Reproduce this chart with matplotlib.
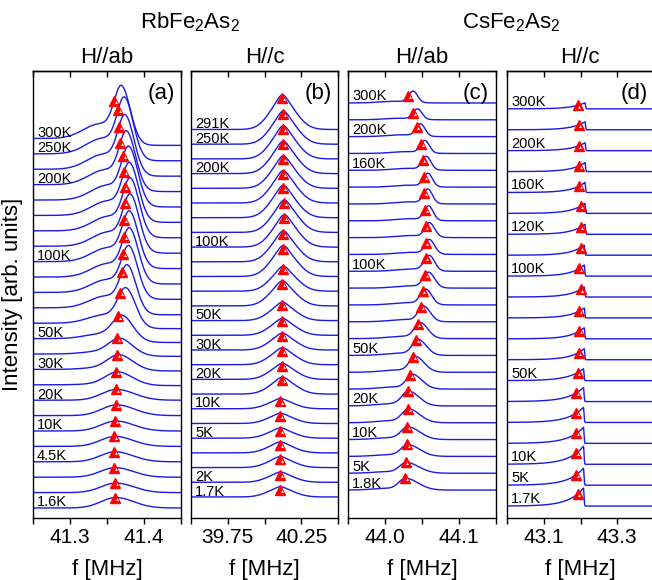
import numpy as np
import matplotlib
matplotlib.use("Agg")
import matplotlib.pyplot as plt
import matplotlib.transforms as mtransforms

plt.rcParams["font.family"] = ["Liberation Sans", "DejaVu Sans"]
plt.rcParams["mathtext.fontset"] = "custom"
plt.rcParams["mathtext.rm"] = "Liberation Sans"

# ======================================================
# NMR spectra, listed from the lowest trace upwards
# heights are in units of the vertical trace spacing
# ======================================================

# RbFe2As2, H//ab
temps_a = ["1.6K", "", "", "4.5K", "", "10K", "", "20K", "", "30K", "", "50K", "",
           "", "", "", "100K", "", "", "", "", "200K", "", "250K", "300K"]
peak_a = [41.362, 41.362, 41.361, 41.361, 41.361, 41.362, 41.363, 41.363, 41.365,
          41.367, 41.368, 41.371, 41.376, 41.378, 41.380, 41.381, 41.381, 41.382,
          41.382, 41.381, 41.380, 41.377, 41.375, 41.374, 41.370]
mark_a = [41.361, 41.361, 41.3595, 41.3595, 41.3595, 41.361, 41.362, 41.362, 41.362,
          41.3635, 41.3635, 41.365, 41.368, 41.370, 41.372, 41.373, 41.373, 41.374,
          41.374, 41.373, 41.372, 41.368, 41.366, 41.365, 41.3595]
height_a = [0.68, 0.62, 0.62, 0.65, 0.65, 0.65, 0.7, 0.7, 0.85, 0.97, 1.05, 1.55, 2.35,
            2.85, 3.1, 3.25, 3.35, 3.45, 3.5, 3.5, 3.55, 3.55, 3.6, 3.75, 3.5]
width_a = [0.020, 0.020, 0.020, 0.020, 0.020, 0.020, 0.020, 0.020, 0.017, 0.016,
           0.015, 0.013, 0.011, 0.010, 0.010, 0.010, 0.010, 0.010, 0.010, 0.010,
           0.010, 0.010, 0.010, 0.010, 0.010]
shoulder_a = [0, 0, 0, 0, 0, 0, 0, 0, 0.05, 0.1, 0.15, 0.2, 0.25, 0.3, 0.3, 0.3,
              0.3, 0.3, 0.3, 0.3, 0.3, 0.3, 0.3, 0.3, 0.3]
lift_a = [0, 0, 0, 0, 0, 0, 0, 0, 0.05, 0.1, 0.15, 0.25, 0.35, 0.45, 0.45, 0.45,
          0.45, 0.45, 0.45, 0.45, 0.45, 0.45, 0.45, 0.45, 0.45]

# RbFe2As2, H//c
temps_b = ["1.7K", "2K", "", "", "5K", "", "10K", "", "20K", "", "30K", "", "50K",
           "", "", "", "", "100K", "", "", "", "", "200K", "", "250K", "291K"]
peak_b = [40.108, 40.108, 40.108, 40.108, 40.108, 40.108, 40.108, 40.122, 40.122,
          40.122, 40.122, 40.122, 40.122, 40.122, 40.128, 40.128, 40.128, 40.135,
          40.135, 40.128, 40.128, 40.128, 40.128, 40.128, 40.128, 40.122]
height_b = [0.7, 0.7, 0.75, 0.75, 0.7, 0.7, 0.7, 1.15, 1.1, 1.15, 1.15, 1.15, 1.25,
            1.7, 1.7, 2.1, 2.1, 2.2, 2.2, 2.2, 2.2, 2.2, 2.2, 2.25, 2.25, 2.35]

# CsFe2As2, H//ab
temps_c = ["1.8K", "5K", "", "10K", "", "20K", "", "", "50K", "", "", "", "",
           "100K", "", "", "", "", "", "160K", "", "200K", "", "300K"]
peak_c = [44.028, 44.029, 44.031, 44.031, 44.032, 44.032, 44.037, 44.041, 44.045,
          44.048, 44.052, 44.055, 44.059, 44.060, 44.060, 44.060, 44.059, 44.058,
          44.058, 44.056, 44.054, 44.048, 44.044, 44.038]
mark_c = [44.027, 44.028, 44.030, 44.030, 44.031, 44.031, 44.034, 44.038, 44.042,
          44.044, 44.049, 44.051, 44.054, 44.055, 44.055, 44.055, 44.054, 44.053,
          44.053, 44.051, 44.049, 44.043, 44.038, 44.031]
height_c = [0.71, 0.65, 0.71, 0.77, 0.83, 0.89, 0.89, 0.95, 0.95, 0.95, 0.95, 0.95,
            0.95, 0.95, 0.89, 0.89, 0.89, 0.89, 0.83, 0.83, 0.77, 0.77, 0.65, 0.71]
width_c = [0.009, 0.009, 0.009, 0.009, 0.009, 0.009, 0.008, 0.008, 0.008, 0.008,
           0.007, 0.007, 0.007, 0.007, 0.006, 0.006, 0.006, 0.006, 0.006, 0.006,
           0.006, 0.006, 0.006, 0.006]
tail_c = [0.017, 0.017, 0.016, 0.016, 0.015, 0.014, 0.013, 0.012, 0.011, 0.010,
          0.009, 0.008, 0.008, 0.007, 0.007, 0.007, 0.006, 0.006, 0.006, 0.006,
          0.006, 0.006, 0.006, 0.006]

# CsFe2As2, H//c
temps_d = ["1.7K", "5K", "10K", "", "", "", "50K", "", "", "", "", "100K", "",
           "120K", "", "160K", "", "200K", "", "300K"]
edge_d = [43.208, 43.208, 43.208, 43.208, 43.208, 43.208, 43.208, 43.210, 43.210,
          43.210, 43.210, 43.210, 43.210, 43.212, 43.212, 43.212, 43.212, 43.212,
          43.212, 43.212]
mark_d = [43.192, 43.189, 43.189, 43.189, 43.189, 43.189, 43.192, 43.195, 43.197,
          43.197, 43.200, 43.197, 43.200, 43.200, 43.200, 43.197, 43.197, 43.195,
          43.195, 43.192]
height_d = [0.86, 0.81, 0.86, 0.77, 0.72, 0.67, 0.57, 0.53, 0.53, 0.48, 0.48, 0.53,
            0.48, 0.48, 0.48, 0.48, 0.43, 0.38, 0.38, 0.29]
rise_d = [0.040, 0.040, 0.040, 0.040, 0.040, 0.040, 0.040, 0.035, 0.035, 0.035,
          0.035, 0.035, 0.035, 0.035, 0.035, 0.035, 0.035, 0.035, 0.035, 0.035]

# frequency windows and axis ticks
xlim_a, ticks_a, labels_a, minor_a = (41.25, 41.45), [41.3, 41.4], ["41.3", "41.4"], [41.25, 41.35, 41.45]
xlim_b, ticks_b, labels_b, minor_b = (39.5, 40.5), [39.75, 40.25], ["39.75", "40.25"], [39.5, 40.0, 40.5]
xlim_c, ticks_c, labels_c, minor_c = (43.95, 44.15), [44.0, 44.1], ["44.0", "44.1"], [43.95, 44.05, 44.15]
xlim_d, ticks_d, labels_d, minor_d = (43.0, 43.4), [43.1, 43.3], ["43.1", "43.3"], [43.0, 43.2, 43.4]


# ======================================================
# Line shapes
# ======================================================

def asym_gauss(f, c, sl, sr):
    s = np.where(f < c, sl, sr)
    return np.exp(-(f - c) ** 2 / (2 * s ** 2))


def spectrum_a(f, c, h, s, sh, lift):
    y = asym_gauss(f, c, s, 1.2 * s) + sh * np.exp(-(f - c + 0.03) ** 2 / (2 * 0.022 ** 2))
    y = h * y / y.max()
    step = lift / (1 + np.exp((f - c - 0.01) / 0.005))
    return y + step - lift


def spectrum_b(f, c, h):
    y = 0.85 * asym_gauss(f, c, 0.085, 0.09) + 0.15 * asym_gauss(f, c, 0.03, 0.03)
    return h * y / y.max()


def spectrum_c(f, c, h, sl, sr):
    y = asym_gauss(f, c, sl, sr) + 0.15 * np.exp(-(f - c + 0.025) ** 2 / (2 * 0.02 ** 2))
    return h * y / y.max()


def spectrum_d(f, c, h, tau):
    y = np.where(f < c, np.exp(np.minimum(f - c, 0) / tau),
                 np.exp(-(f - c) ** 2 / (2 * 0.0015 ** 2)))
    return h * y


# ======================================================
# Figure
# ======================================================

W, H = 652, 580
fig = plt.figure(figsize=(W / 100, H / 100), dpi=100)

LINE = "#1a1ae6"


def px_axes(left, right, top=71, bottom=518):
    return fig.add_axes([left / W, 1 - bottom / H, (right - left) / W, (bottom - top) / H])


def setup_axis(ax, xlim, ylim, ticks, labels, minor, letter):
    ax.set_xlim(xlim)
    ax.set_ylim(ylim)
    ax.set_yticks([])
    ax.set_xticks(ticks)
    ax.set_xticklabels(labels, fontsize=15)
    ax.set_xticks(minor, minor=True)
    ax.tick_params(axis="x", which="both", direction="out", length=4.5, width=1, pad=3)
    top = ax.secondary_xaxis("top")
    top.set_xticks(ticks)
    top.set_xticks(minor, minor=True)
    top.tick_params(axis="x", which="both", direction="in", length=4.5, width=1,
                    labeltop=False)
    for sp in list(ax.spines.values()) + list(top.spines.values()):
        sp.set_linewidth(1.0)
    ax.set_xlabel("f [MHz]", fontsize=16, labelpad=8)
    ax.text(1, 1, letter, transform=ax.transAxes + mtransforms.ScaledTranslation(
        -20 / 100, -22 / 100, fig.dpi_scale_trans), fontsize=16, ha="center", va="center")


def draw_marks(ax, f, y):
    ax.plot(f, y, "^", color="red", ms=7.5, mec="red", zorder=4)
    shift = mtransforms.offset_copy(ax.transData, fig=fig, x=1.2, y=-0.8, units="points")
    ax.plot(f, y, "^", color="white", ms=2.0, mew=0, transform=shift, zorder=5)


def draw_labels(ax, temps, dy):
    for i, t in enumerate(temps):
        if t:
            ax.text(4 / 148, i + dy, t, transform=ax.get_yaxis_transform(),
                    fontsize=10.5, va="baseline", ha="left", zorder=6)


# (a) RbFe2As2 H//ab
ax = px_axes(33, 181)
f = np.linspace(*xlim_a, 1200)
my = []
for i in range(len(peak_a)):
    y = spectrum_a(f, peak_a[i], height_a[i], width_a[i], shoulder_a[i], lift_a[i]) + i
    ax.plot(f, y, color=LINE, lw=1.0)
    my.append(np.interp(mark_a[i], f, y))
draw_marks(ax, mark_a, my)
draw_labels(ax, temps_a, 0.1)
setup_axis(ax, xlim_a, (-0.65, 28.38), ticks_a, labels_a, minor_a, "(a)")

# (b) RbFe2As2 H//c
ax = px_axes(191, 338)
f = np.linspace(*xlim_b, 1200)
my = []
for i in range(len(peak_b)):
    y = spectrum_b(f, peak_b[i], height_b[i]) + i
    ax.plot(f, y, color=LINE, lw=1.0)
    my.append(np.interp(peak_b[i], f, y) - 0.2)
draw_marks(ax, peak_b, my)
draw_labels(ax, temps_b, 0.1)
setup_axis(ax, xlim_b, (-1.43, 28.98), ticks_b, labels_b, minor_b, "(b)")

# (c) CsFe2As2 H//ab
ax = px_axes(348, 496)
f = np.linspace(*xlim_c, 1200)
my = []
for i in range(len(peak_c)):
    y = spectrum_c(f, peak_c[i], height_c[i], width_c[i], tail_c[i]) + i
    ax.plot(f, y, color=LINE, lw=1.0)
    my.append(np.interp(mark_c[i], f, y))
draw_marks(ax, mark_c, my)
draw_labels(ax, temps_c, 0.15)
setup_axis(ax, xlim_c, (-1.66, 24.9), ticks_c, labels_c, minor_c, "(c)")

# (d) CsFe2As2 H//c
ax = px_axes(507, 654)
f = np.linspace(*xlim_d, 2000)
my = []
for i in range(len(edge_d)):
    y = spectrum_d(f, edge_d[i], height_d[i], rise_d[i]) + i
    ax.plot(f, y, color=LINE, lw=1.0)
    my.append(np.interp(mark_d[i], f, y))
draw_marks(ax, mark_d, my)
draw_labels(ax, temps_d, 0.15)
setup_axis(ax, xlim_d, (-0.57, 20.81), ticks_d, labels_d, minor_d, "(d)")

# compound and field-direction headings
fig.text(190 / W, 1 - 28 / H, "RbFe$_2$As$_2$", fontsize=16, ha="center", va="baseline")
fig.text(511 / W, 1 - 28 / H, "CsFe$_2$As$_2$", fontsize=16, ha="center", va="baseline")
for x, t in [(107, "H//ab"), (265, "H//c"), (422, "H//ab"), (580, "H//c")]:
    fig.text(x / W, 1 - 63 / H, t, fontsize=16, ha="center", va="baseline")

fig.text(13 / W, 1 - 294.5 / H, "Intensity [arb. units]", fontsize=16,
         rotation=90, ha="center", va="center")

fig.savefig("out.png", dpi=100)
